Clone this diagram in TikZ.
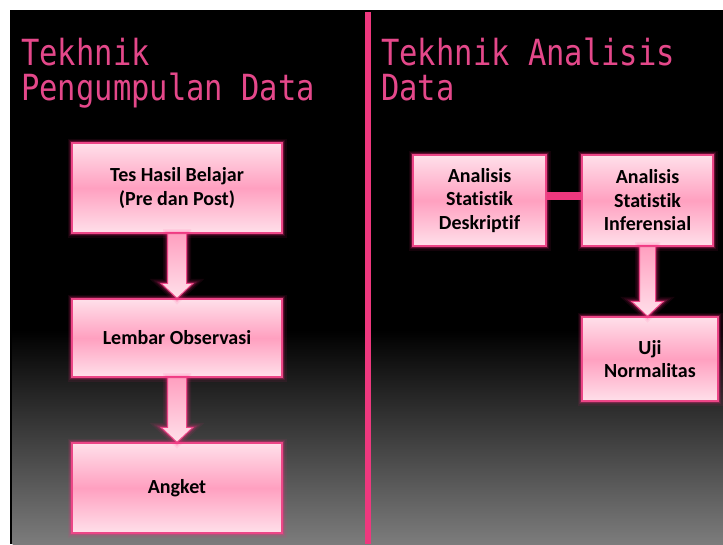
\documentclass[tikz,border=0pt]{standalone}
\usepackage{fontspec}
\setmainfont{Carlito}[Ligatures={TeX,NoCommon}]
\newfontfamily\titlefont{DejaVu Sans Mono}
\usetikzlibrary{calc}

\definecolor{titlepink}{RGB}{228,72,138}
\definecolor{edgepink}{RGB}{236,70,135}
\definecolor{glowpink}{RGB}{255,40,130}
\definecolor{boxlight}{RGB}{255,224,234}
\definecolor{boxmid}{RGB}{255,160,192}
\definecolor{barpink}{RGB}{238,56,126}
\definecolor{bottomgray}{RGB}{124,124,124}

\tikzset{
  glow/.style={
    preaction={draw=glowpink, line width=9pt, opacity=0.08},
    preaction={draw=glowpink, line width=6pt, opacity=0.12},
    preaction={draw=glowpink, line width=3.5pt, opacity=0.25}},
  stepbox/.style={glow, draw=edgepink, line width=1.3pt,
    top color=boxlight, bottom color=boxlight, middle color=boxmid,
    font=\bfseries\fontsize{20}{23.5}\selectfont, align=center, inner sep=0pt},
  flowarrow/.style={glow, draw=edgepink, line width=1pt,
    top color=boxmid, bottom color=boxlight},
  heading/.style={text=titlepink, font=\titlefont\fontsize{30.5}{34.5}\selectfont,
    inner sep=0pt, anchor=base west, yscale=1.18, transform shape},
}

\begin{document}
\begin{tikzpicture}[x=1pt, y=-1pt]
  % page and slide background
  \useasboundingbox (0,0) rectangle (723,544);
  \fill[white] (0,0) rectangle (723,544);
  \fill[black] (10,10) rectangle (723,544);
  \shade[top color=black, bottom color=bottomgray] (12.5,330) rectangle (723,544);
  % dividing line between the two columns
  \fill[barpink] (365,12) rectangle (371,544);

  % headings
  \node[heading] (h1a) at (21,65.5) {Tekhnik};
  \node[heading] (h1b) at (21,100) {Pengumpulan Data};
  \node[heading] (h2a) at (381,65.5) {Tekhnik Analisis};
  \node[heading] (h2b) at (381,100) {Data};

  % left column: data collection
  \node[stepbox, minimum width=210pt, minimum height=90pt] (tes) at (177,188)
    {Tes Hasil Belajar\\(Pre dan Post)};
  \node[stepbox, minimum width=210pt, minimum height=78pt] (obs) at (177,338)
    {Lembar Observasi};
  \node[stepbox, minimum width=210pt, minimum height=90pt] (angket) at (177,488)
    {Angket};

  % right column: data analysis
  \node[stepbox, minimum width=133pt, minimum height=91pt] (desk) at (479.5,200.5)
    {Analisis\\Statistik\\Deskriptif};
  \node[stepbox, minimum width=131pt, minimum height=91pt] (infer) at (647.5,200.5)
    {Analisis\\Statistik\\Inferensial};
  \node[stepbox, minimum width=136pt, minimum height=84pt] (uji) at (650,359)
    {Uji\\Normalitas};

  % link between the two analysis boxes
  \draw[barpink, line width=8pt] ([yshift=4.5pt]desk.east) -- ([yshift=4.5pt]infer.west);

  % block arrows
  \path[flowarrow] let \p1=(tes.south), \p2=(obs.north) in
    (\x1-9.5pt,\y1) -- (\x1+9.5pt,\y1) -- (\x1+9.5pt,\y2+15pt) -- (\x1+16pt,\y2+15pt)
    -- (\x1,\y2) -- (\x1-16pt,\y2+15pt) -- (\x1-9.5pt,\y2+15pt) -- cycle;
  \path[flowarrow] let \p1=(obs.south), \p2=(angket.north) in
    (\x1-9.5pt,\y1) -- (\x1+9.5pt,\y1) -- (\x1+9.5pt,\y2+15pt) -- (\x1+16pt,\y2+15pt)
    -- (\x1,\y2) -- (\x1-16pt,\y2+15pt) -- (\x1-9.5pt,\y2+15pt) -- cycle;
  \path[flowarrow] let \p1=(infer.south), \p2=(uji.north) in
    (\x1-8pt,\y1) -- (\x1+8pt,\y1) -- (\x1+8pt,\y2+15pt) -- (\x1+16pt,\y2+15pt)
    -- (\x1,\y2) -- (\x1-16pt,\y2+15pt) -- (\x1-8pt,\y2+15pt) -- cycle;
\end{tikzpicture}
\end{document}
